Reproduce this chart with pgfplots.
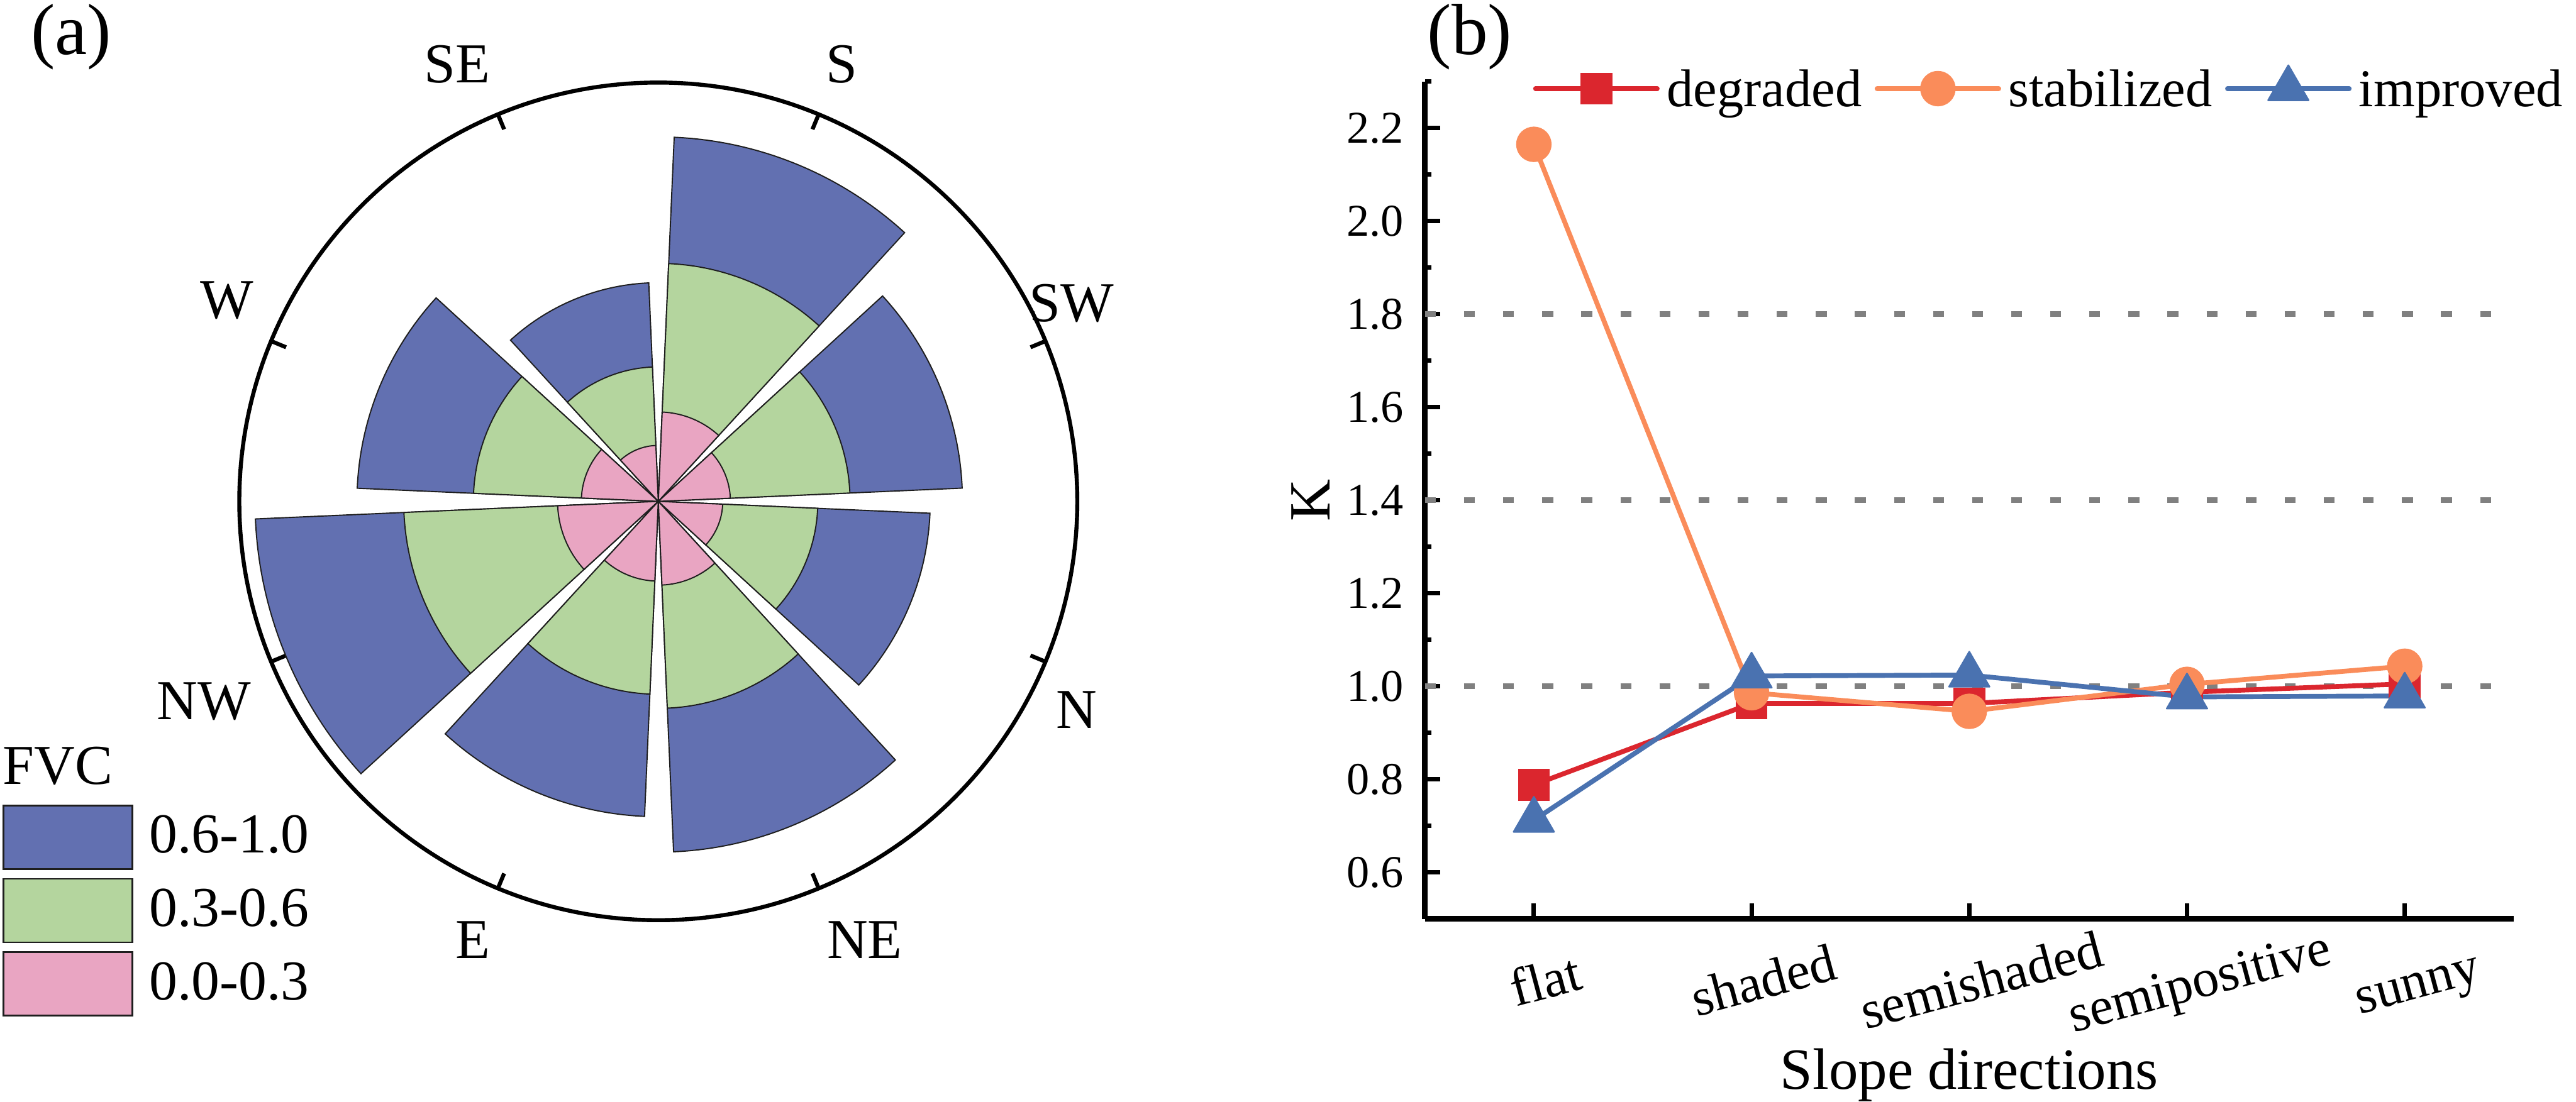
\documentclass[border=0pt]{standalone}
\usepackage{pgfplots}
\pgfplotsset{compat=1.18}
\usepackage{pgfplotstable}
\usepgfplotslibrary{polar}
\usepackage{fontspec}
\setmainfont{Liberation Serif}

\definecolor{fvcB}{RGB}{98,112,177}
\definecolor{fvcG}{RGB}{180,213,158}
\definecolor{fvcP}{RGB}{233,165,194}
\definecolor{edgec}{RGB}{30,30,30}
\definecolor{cRed}{RGB}{219,38,46}
\definecolor{cOrange}{RGB}{250,140,90}
\definecolor{cBlue}{RGB}{74,114,176}
\definecolor{gridgray}{RGB}{128,128,128}

\pgfkeys{/pgf/number format/assume math mode=true}

% sector of the rose: drawn from the point (angle, radius) back to the centre
\pgfdeclareplotmark{wedge}{%
  \pgfkeys{/pgf/fpu=true, /pgf/fpu/output format=fixed}%
  \pgfmathsetmacro\wc{\wang+180}%
  \pgfmathsetmacro\wa{\wang-20}%
  \pgfmathsetmacro\wb{\wang+20}%
  \pgfmathsetmacro\wr{\wrad}%
  \pgfkeys{/pgf/fpu=false}%
  \pgfpathmoveto{\pgfpointpolar{\wc}{\wr pt}}%
  \pgfpathlineto{\pgfpointadd{\pgfpointpolar{\wc}{\wr pt}}{\pgfpointpolar{\wa}{\wr pt}}}%
  \pgfpatharc{\wa}{\wb}{\wr pt}%
  \pgfpathclose
  \pgfusepathqfillstroke
}
\pgfdeclareplotmark{nothing}{}

% rose: direction angle, outer radius of each FVC class (cumulative)
\pgfplotstableread{
a r0 r1 r2
22.5 17.9 47.6 75.5
67.5 22.2 59.1 90.5
112.5 13.9 33.4 54.3
157.5 19.1 45.9 74.8
202.5 25.0 63.2 100.1
247.5 19.8 47.9 78.3
292.5 20.8 51.4 87.1
337.5 16.0 39.6 67.5
}\rosedata

\pgfplotstableread{
a r lab
25.6 113.7 SW
67.2 117.7 S
114.7 119.4 SE
155.0 118.1 W
203.8 123.3 NW
247.1 118.2 E
295.2 120.3 NE
333.5 116.1 N
}\labdata

\pgfplotstableread{
i deg stab imp
0 0.788 2.165 0.712
1 0.963 0.986 1.022
2 0.963 0.946 1.024
3 0.987 1.004 0.977
4 1.005 1.043 0.979
}\kdata

\begin{document}
\begin{tikzpicture}
\useasboundingbox (0pt,0pt) rectangle (639.4pt,273.5pt);

\node[anchor=base west, inner sep=0pt, font=\fontsize{18}{20}\selectfont] at (7.5pt,260pt) {(a)};
\node[anchor=base west, inner sep=0pt, font=\fontsize{18}{20}\selectfont] at (354.1pt,260pt) {(b)};
\node[anchor=base west, inner sep=0pt, font=\fontsize{14}{16}\selectfont] at (0.5pt,78.8pt) {FVC};

\begin{polaraxis}[
  at={(163.4pt,149.0pt)}, anchor=center,
  scale only axis, width=208pt, height=208pt,
  xmin=0, xmax=360, ymin=0, ymax=104,
  clip=false,
  xtick={22.5,67.5,112.5,157.5,202.5,247.5,292.5,337.5},
  xticklabels={,,,,,,,},
  ytick=\empty,
  y axis line style={draw=none},
  axis line style={line width=1pt},
  xmajorgrids=false, ymajorgrids=false,
  tick align=outside, major tick length=4pt,
  tick style={line width=1pt, black},
  legend cell align=left,
  legend style={at={(axis description cs:-0.2832,0.1389)}, anchor=north west,
    draw=none, fill=none, inner sep=0pt, row sep=2pt, column sep=4pt,
    font=\fontsize{14}{16}\selectfont, nodes={inner sep=0pt}},
  legend image code/.code={\draw[#1, line width=0.4pt] (0pt,-7.9pt) rectangle (32pt,7.9pt);},
]
\addplot[only marks, mark=wedge, fill=fvcB, draw=edgec, line width=0.3pt,
  visualization depends on={rawx \as \wang},
  visualization depends on={rawy \as \wrad}]
  table[x=a, y=r2] \rosedata;
\addlegendentry{0.6-1.0}
\addplot[only marks, mark=wedge, fill=fvcG, draw=edgec, line width=0.3pt,
  visualization depends on={rawx \as \wang},
  visualization depends on={rawy \as \wrad}]
  table[x=a, y=r1] \rosedata;
\addlegendentry{0.3-0.6}
\addplot[only marks, mark=wedge, fill=fvcP, draw=edgec, line width=0.3pt,
  visualization depends on={rawx \as \wang},
  visualization depends on={rawy \as \wrad}]
  table[x=a, y=r0] \rosedata;
\addlegendentry{0.0-0.3}
\addplot[only marks, mark=nothing, forget plot, nodes near coords, point meta=explicit symbolic,
  nodes near coords style={anchor=center, inner sep=0pt, text=black, font=\fontsize{14}{16}\selectfont}]
  table[x=a, y=r, meta=lab] \labdata;
\end{polaraxis}

\begin{axis}[
  at={(353.7pt,45.35pt)}, anchor=south west,
  scale only axis, width=270.2pt, height=207.9pt,
  xmin=-0.5, xmax=4.5, ymin=0.5, ymax=2.3,
  axis lines=left, axis line style={-, line width=1.4pt},
  xtick={0,1,2,3,4},
  xticklabels={flat,shaded,semishaded,semipositive,sunny},
  ytick={0.6,0.8,1.0,1.2,1.4,1.6,1.8,2.0,2.2},
  minor ytick={0.7,0.9,1.1,1.3,1.5,1.7,1.9,2.1,2.3},
  tick align=inside, major tick length=3.8pt, minor tick length=1.6pt,
  tick style={line width=1.1pt, black},
  yticklabel style={font=\fontsize{11.3}{13}\selectfont, xshift=-1.8pt,
    /pgf/number format/fixed, /pgf/number format/fixed zerofill,
    /pgf/number format/precision=1},
  xticklabel style={font=\fontsize{13.2}{14}\selectfont, anchor=center,
    text height=0.69em, text depth=0.22em, xshift=3.5pt, yshift=-17.3pt, rotate=15},
  xlabel={Slope directions}, ylabel={K},
  xlabel style={font=\fontsize{14.5}{16}\selectfont, at={(axis description cs:0.5,0)},
    anchor=base, yshift=-42.3pt},
  ylabel style={font=\fontsize{14.5}{16}\selectfont, at={(axis description cs:-0.0877,0.5)},
    anchor=base},
  clip=false,
  legend columns=3,
  legend style={at={(axis description cs:0.0986,0.9942)}, anchor=west,
    draw=none, fill=none, inner sep=0pt,
    font=\fontsize{13.2}{15}\selectfont,
    nodes={inner sep=0pt, text height=9.2pt, text depth=0.2pt},
    /tikz/every odd column/.append style={column sep=1.8pt},
    /tikz/every even column/.append style={column sep=3.2pt}},
  legend image code/.code={\draw[mark repeat=2, mark phase=2, line cap=round, #1]
    plot coordinates {(0pt,0pt) (15.1pt,0pt) (30.2pt,0pt)};},
]
\addplot[gridgray, line width=1.45pt, dash pattern=on 2.7pt off 7pt, forget plot]
  coordinates {(-0.5,1.0) (4.4,1.0)};
\addplot[gridgray, line width=1.45pt, dash pattern=on 2.7pt off 7pt, forget plot]
  coordinates {(-0.5,1.4) (4.4,1.4)};
\addplot[gridgray, line width=1.45pt, dash pattern=on 2.7pt off 7pt, forget plot]
  coordinates {(-0.5,1.8) (4.4,1.8)};

\addplot[cRed, line width=1.2pt, mark=square*, mark size=3.75pt,
  mark options={solid, line width=0.4pt}] table[x=i, y=deg] \kdata;
\addlegendentry{degraded}
\addplot[cOrange, line width=1.2pt, mark=*, mark size=4.2pt,
  mark options={solid, line width=0.4pt}] table[x=i, y=stab] \kdata;
\addlegendentry{stabilized}
\addplot[cBlue, line width=1.2pt, mark=triangle*, mark size=5.8pt,
  mark options={solid, line width=0.4pt, line join=round}] table[x=i, y=imp] \kdata;
\addlegendentry{improved}
\end{axis}
\end{tikzpicture}
\end{document}
